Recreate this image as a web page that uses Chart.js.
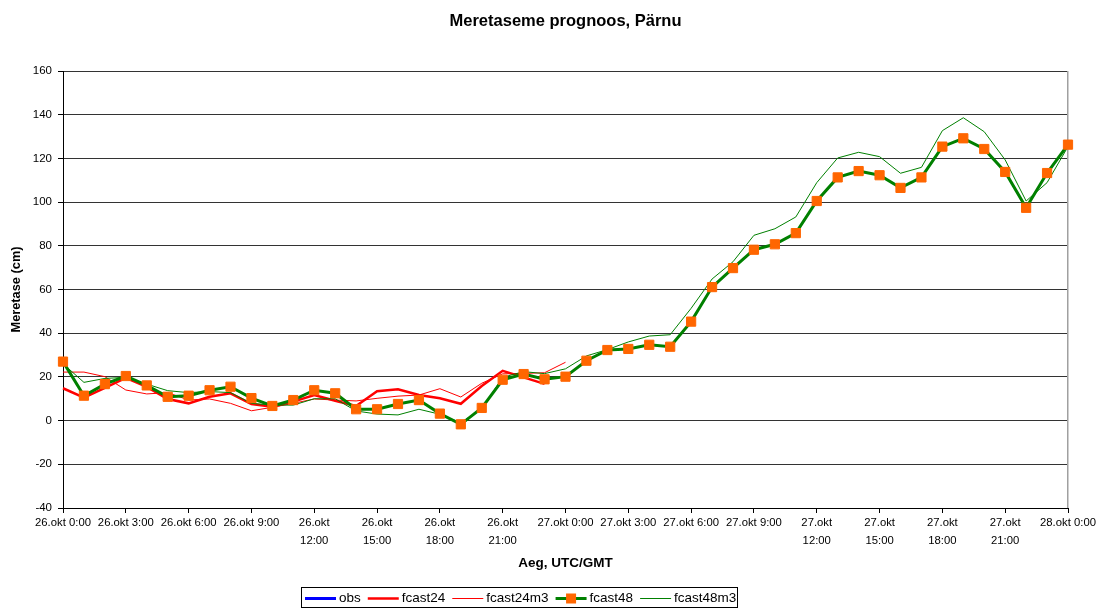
<!DOCTYPE html>
<html>
<head>
<meta charset="utf-8">
<script src="https://cdn.jsdelivr.net/npm/chart.js@4/dist/chart.umd.min.js"></script>
<style>
  html, body { margin: 0; padding: 0; background: #fff; }
  #wrap { width: 1099px; height: 608px; }
</style>
</head>
<body>
<div id="wrap"><canvas id="c" width="1099" height="608"></canvas></div>
<script>
// ---- DATA ----
const categories = [
  "26.okt 0:00","26.okt 1:00","26.okt 2:00","26.okt 3:00","26.okt 4:00","26.okt 5:00",
  "26.okt 6:00","26.okt 7:00","26.okt 8:00","26.okt 9:00","26.okt 10:00","26.okt 11:00",
  "26.okt 12:00","26.okt 13:00","26.okt 14:00","26.okt 15:00","26.okt 16:00","26.okt 17:00",
  "26.okt 18:00","26.okt 19:00","26.okt 20:00","26.okt 21:00","26.okt 22:00","26.okt 23:00",
  "27.okt 0:00","27.okt 1:00","27.okt 2:00","27.okt 3:00","27.okt 4:00","27.okt 5:00",
  "27.okt 6:00","27.okt 7:00","27.okt 8:00","27.okt 9:00","27.okt 10:00","27.okt 11:00",
  "27.okt 12:00","27.okt 13:00","27.okt 14:00","27.okt 15:00","27.okt 16:00","27.okt 17:00",
  "27.okt 18:00","27.okt 19:00","27.okt 20:00","27.okt 21:00","27.okt 22:00","27.okt 23:00",
  "28.okt 0:00"
];
const tickLabels = [
  "26.okt 0:00","26.okt 3:00","26.okt 6:00","26.okt 9:00",
  ["26.okt","12:00"],["26.okt","15:00"],["26.okt","18:00"],["26.okt","21:00"],
  "27.okt 0:00","27.okt 3:00","27.okt 6:00","27.okt 9:00",
  ["27.okt","12:00"],["27.okt","15:00"],["27.okt","18:00"],["27.okt","21:00"],
  "28.okt 0:00"
];
const obs = [];
const fcast24 = [14.8,10.5,15.0,19.6,15.4,9.9,7.9,10.9,12.5,7.6,6.4,8.7,11.7,9.1,
  6.7,13.4,14.3,11.7,10.2,7.7,15.8,22.8,19.8,16.8];
const fcast24m3 = [22.2,22.2,20.1,14.0,12.2,12.8,9.4,9.9,7.9,4.5,6.1,7.9,9.9,9.4,
  9.0,10.2,11.2,11.7,14.6,10.8,17.1,21.4,21.6,21.9,26.7];
const fcast48 = [27.0,11.4,16.7,20.4,16.1,10.9,11.4,13.9,15.5,10.3,6.7,9.4,13.9,12.5,
  5.2,5.2,7.6,9.4,3.2,-1.7,5.8,18.7,21.3,18.9,20.1,27.4,32.3,32.8,34.7,33.8,
  45.3,61.1,69.8,78.2,80.7,85.8,100.5,111.3,114.2,112.3,106.5,111.3,125.4,129.2,
  124.3,113.8,97.4,113.3,126.3];
const fcast48m3 = [26.0,17.5,19.3,19.8,16.7,13.7,12.8,13.3,12.8,7.9,7.1,7.1,10.0,10.0,
  4.4,3.0,2.6,5.2,2.9,-1.0,5.5,19.8,22.4,21.5,23.7,29.6,32.5,36.0,38.7,39.3,
  51.4,64.8,72.7,84.8,87.8,93.2,108.9,120.2,122.8,120.8,113.2,115.9,132.7,138.6,
  132.2,119.3,100.5,108.9,125.4];
const titleText = "Meretaseme prognoos, Pärnu";
const yTitle = "Meretase (cm)";
const xTitle = "Aeg, UTC/GMT";

const FONT = "'Liberation Sans', Arial, Helvetica, sans-serif";
Chart.defaults.font.family = FONT;
Chart.defaults.color = '#000';

const titlePlugin = {
  id: 'titlePlugin',
  afterDraw(chart) {
    const ctx = chart.ctx, a = chart.chartArea;
    ctx.save();
    ctx.font = "bold 16.5px " + FONT;
    ctx.fillStyle = '#000';
    ctx.textAlign = 'center';
    ctx.textBaseline = 'middle';
    ctx.fillText(titleText, (a.left + a.right) / 2, 21);
    ctx.restore();
  }
};

const framePlugin = {
  id: 'framePlugin',
  beforeDatasetsDraw(chart) {
    const ctx = chart.ctx, a = chart.chartArea;
    ctx.save();
    ctx.strokeStyle = '#a0a0a0';
    ctx.lineWidth = 1.5;
    ctx.beginPath();
    ctx.moveTo(Math.round(a.right) - 0.25, a.top);
    ctx.lineTo(Math.round(a.right) - 0.25, a.bottom);
    ctx.stroke();
    ctx.restore();
  }
};

const legendPlugin = {
  id: 'legendPlugin',
  afterDraw(chart) {
    const ctx = chart.ctx;
    ctx.save();
    ctx.strokeStyle = '#000';
    ctx.lineWidth = 1;
    ctx.strokeRect(301.5, 587.5, 436, 20);
    ctx.font = "13.5px " + FONT;
    ctx.textBaseline = 'middle';
    ctx.fillStyle = '#000';
    const yc = 598.5;
    let x = 305;
    chart.data.datasets.forEach(ds => {
      ctx.strokeStyle = ds.borderColor;
      ctx.lineWidth = ds.borderWidth;
      ctx.beginPath();
      ctx.moveTo(x, yc);
      ctx.lineTo(x + 31, yc);
      ctx.stroke();
      if (ds.pointRadius > 0) {
        ctx.fillStyle = ds.pointBackgroundColor;
        ctx.fillRect(x + 15.5 - 5, yc - 5, 10, 10);
      }
      ctx.fillStyle = '#000';
      ctx.textAlign = 'left';
      ctx.fillText(ds.label, x + 34, yc);
      x += 34 + ctx.measureText(ds.label).width + 7;
    });
    ctx.restore();
  }
};

new Chart(document.getElementById('c'), {
  type: 'line',
  data: {
    labels: categories,
    datasets: [
      { label: 'obs', data: obs, borderColor: '#0000FF', borderWidth: 3, pointRadius: 0, order: 5 },
      { label: 'fcast24', data: fcast24, borderColor: '#FF0000', borderWidth: 2.5, pointRadius: 0, order: 4 },
      { label: 'fcast24m3', data: fcast24m3, borderColor: '#FF0000', borderWidth: 1, pointRadius: 0, order: 3 },
      { label: 'fcast48', data: fcast48, borderColor: '#008000', borderWidth: 3,
        pointStyle: 'rect', pointRadius: 6.5, pointBorderWidth: 1,
        pointBackgroundColor: '#FF6600', pointBorderColor: '#FF6600', order: 0 },
      { label: 'fcast48m3', data: fcast48m3, borderColor: '#008000', borderWidth: 1, pointRadius: 0, order: 1 }
    ]
  },
  options: {
    responsive: false,
    devicePixelRatio: 1,
    animation: false,
    events: [],
    elements: { line: { tension: 0 } },
    layout: { padding: { top: 71, left: 9, right: 31, bottom: 28 } },
    plugins: {
      legend: { display: false },
      title: { display: false },
      tooltip: { enabled: false }
    },
    scales: {
      x: {
        type: 'category',
        offset: false,
        grid: { drawOnChartArea: false, drawTicks: true, tickLength: 5, tickColor: '#000' },
        border: { display: true, color: '#000', width: 1 },
        ticks: {
          autoSkip: false, maxRotation: 0, minRotation: 0, padding: 1,
          font: { size: 11.3, lineHeight: 1.6 }, color: '#000',
          callback: (v, i) => (i % 3 === 0 ? tickLabels[i / 3] : null)
        },
        title: { display: true, text: xTitle, font: { size: 13.5, weight: 'bold' }, padding: { top: 0, bottom: 9 } },
        afterFit: (s) => { s.height = 72; }
      },
      y: {
        min: -40, max: 160,
        grid: { color: '#333', lineWidth: 1, drawTicks: true, tickLength: 5, tickColor: '#000' },
        border: { display: true, color: '#000', width: 1 },
        ticks: { stepSize: 20, padding: 6, font: { size: 11.5 }, color: '#000' },
        title: { display: true, text: yTitle, font: { size: 12.8, weight: 'bold' }, padding: { top: 0, bottom: 0 } },
        afterFit: (s) => { s.width = 54; }
      }
    }
  },
  plugins: [framePlugin, titlePlugin, legendPlugin]
});
</script>
</body>
</html>
